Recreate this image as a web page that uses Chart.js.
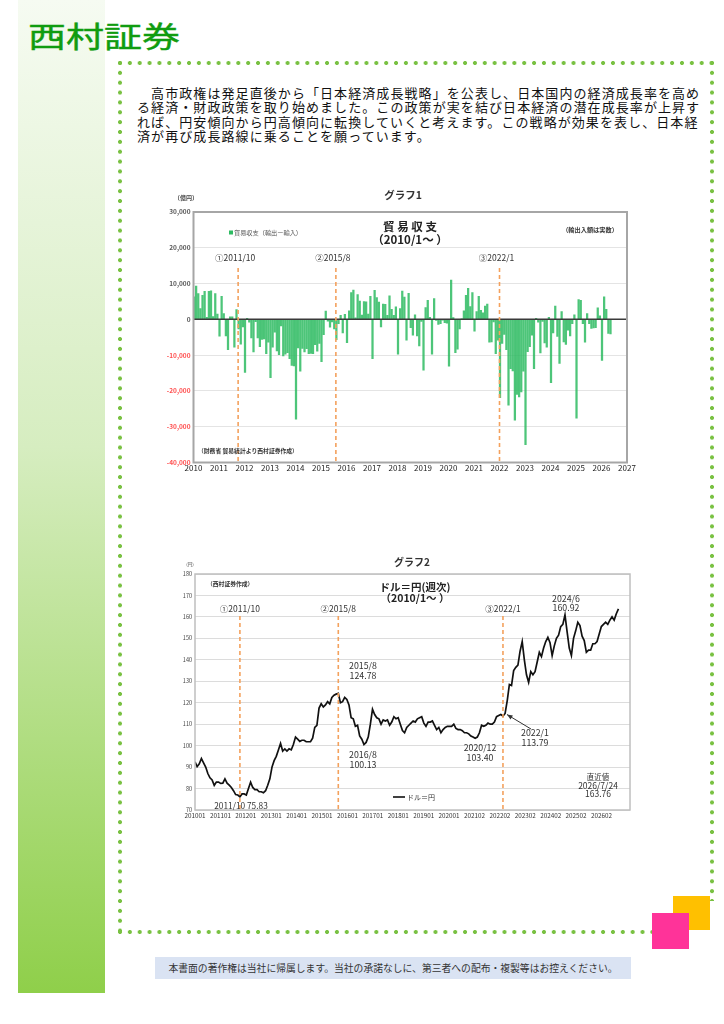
<!DOCTYPE html>
<html lang="ja">
<head>
<meta charset="utf-8">
<title>西村証券 グラフ1・グラフ2</title>
<script src="https://cdn.jsdelivr.net/npm/chart.js"></script>
<style>
  html, body { margin: 0; padding: 0; background: #fff; }
  body { width: 724px; height: 1024px; position: relative; overflow: hidden;
         font-family: "Noto Sans CJK JP", "Noto Sans", sans-serif; color: #111; }
  .abs { position: absolute; }
  #sidebar { left: 18px; top: 0; width: 87px; height: 993px;
             background: linear-gradient(to bottom, #f6fbf2 0%, #d6edc0 45%, #8fcf4a 100%); }
  #brand { left: 28px; top: 17px; font-size: 29px; line-height: 36px; color: #109c10;
           transform: scaleX(1.31); transform-origin: left top; white-space: nowrap;
           -webkit-text-stroke: 0.4px #109c10; }
  .dots-h { height: 4px;
            background: radial-gradient(circle at 2px 2px, #79c142 1.7px, rgba(121,193,66,0) 2.3px) 0 0 / 9.87px 4px repeat-x; }
  .dots-v { width: 4px;
            background: radial-gradient(circle at 2px 2px, #79c142 1.7px, rgba(121,193,66,0) 2.3px) 0 0 / 4px 9.87px repeat-y; }
  #lead { left: 137px; top: 86px; width: 580px; font-size: 13px; line-height: 14.4px;
          letter-spacing: 1.08px; white-space: nowrap; }
  #sqOrange { left: 673px; top: 896px; width: 37px; height: 34px; background: #ffc000; }
  #sqPink { left: 652px; top: 913px; width: 37px; height: 36px; background: #ff3399; }
  #footer { left: 155px; top: 957px; width: 476px; height: 22px; background: #dae3f3;
            font-size: 9.8px; line-height: 22px; text-align: center; color: #333; white-space: nowrap; }
  canvas { position: absolute; }
</style>
</head>
<body>
<div id="sidebar" class="abs"></div>
<div id="brand" class="abs">西村証券</div>

<div class="abs dots-h" style="left:118px; top:61px; width:598px;"></div>
<div class="abs dots-h" style="left:118px; top:930px; width:538px;"></div>
<div class="abs dots-v" style="left:118px; top:61px; height:873px;"></div>
<div class="abs dots-v" style="left:710px; top:61px; height:840px;"></div>

<div id="lead" class="abs">
  <div>　高市政権は発足直後から「日本経済成長戦略」を公表し、日本国内の経済成長率を高め</div>
  <div>る経済・財政政策を取り始めました。この政策が実を結び日本経済の潜在成長率が上昇す</div>
  <div>れば、円安傾向から円高傾向に転換していくと考えます。この戦略が効果を表し、日本経</div>
  <div>済が再び成長路線に乗ることを願っています。</div>
</div>

<canvas id="tradeChart" width="490" height="294" style="left:150px; top:183px;"></canvas>
<canvas id="usdChart" width="475" height="280" style="left:165px; top:550px;"></canvas>

<div id="sqOrange" class="abs"></div>
<div id="sqPink" class="abs"></div>
<div id="footer" class="abs">本書面の著作権は当社に帰属します。当社の承諾なしに、第三者への配布・複製等はお控えください。</div>

<script>
// ---- グラフ1: 貿易収支 (億円, 月次) ----
const trade2010 = [6300, 9300, 7200, 3000, 6700, 7800, 600, 7800, 8000, 800, 7200, 1500];
const trade2011 = [-4700, 6400, 1600, -4600, -8500, 700, 700, -7800, 2700, -2700, -6900, -2100];
const trade2012 = [-14800, 300, -800, -5200, -9100, -650, -5200, -7600, -5600, -5500, -9600, -6400];
const trade2013 = [-16300, -7800, -3600, -8800, -9900, -1800, -10200, -9700, -9300, -11000, -12900, -13000];
const trade2014 = [-27900, -8000, -14500, -8100, -9100, -8200, -9600, -9500, -9600, -7100, -8900, -6700];
const trade2015 = [-11800, -4300, 2300, -500, -2200, -700, -2700, -5700, -1200, 1100, -3800, 1400];
const trade2016 = [-6500, 2400, 7500, 8200, 400, 6900, 5100, 1200, 5000, 4900, 1500, 6400];
const trade2017 = [-11000, 8100, 6100, 4800, -2100, 4300, 4200, 1100, 6600, 2800, 1100, 3500];
const trade2018 = [-9700, 3000, 7900, 6200, -5800, 7300, -2300, -4400, 1300, -4600, -7400, -600];
const trade2019 = [-14200, 3300, 5300, 600, -9700, 5800, -300, -1400, -1200, -200, -900, -1100];
const trade2020 = [-13100, 11000, 500, -9300, -8300, -2700, 100, 2400, 6700, 8700, 3600, 7500];
const trade2021 = [-3300, 2200, 6400, 2500, 1800, 3700, 4300, -6400, -6300, -700, -9600, -5800];
const trade2022 = [-21900, -6700, -4200, -8500, -24000, -13800, -14400, -28200, -21000, -21700, -20300, -14500];
const trade2023 = [-35000, -9000, -7600, -4400, -13800, 300, -800, -9400, -600, -6600, -7800, 600];
const trade2024 = [-17700, -3800, 3700, -4800, -12300, 2200, -6300, -7000, -3000, -4600, -1200, 1300];
const trade2025 = [-27600, 5500, 5300, -1200, -6400, 1600, -1200, -2500, -2400, -2300, 3200, 1000];
const trade2026 = [-11500, 6300, 2800, -3900, -4100];
const tradeYears = [2010, 2011, 2012, 2013, 2014, 2015, 2016, 2017, 2018, 2019, 2020, 2021, 2022, 2023, 2024, 2025, 2026];
const tradeByYear = [trade2010, trade2011, trade2012, trade2013, trade2014, trade2015, trade2016, trade2017,
  trade2018, trade2019, trade2020, trade2021, trade2022, trade2023, trade2024, trade2025, trade2026];

// ---- グラフ2: ドル=円 (月次で読み取り) ----
const usd2010 = [92.5, 90.2, 91.5, 94.0, 92.0, 90.0, 87.0, 85.0, 84.0, 81.5, 83.0, 83.0];
const usd2011 = [82.4, 82.5, 84.5, 82.5, 81.6, 80.5, 79.0, 77.2, 77.0, 76.2, 77.5, 77.5];
const usd2012 = [77.0, 80.0, 83.0, 80.5, 79.5, 79.5, 78.5, 78.5, 78.0, 79.0, 81.5, 84.5];
const usd2013 = [90.0, 93.0, 95.0, 98.0, 101.0, 97.5, 98.5, 97.5, 98.5, 98.0, 100.5, 104.0];
const usd2014 = [103.0, 102.0, 102.5, 102.5, 101.8, 101.8, 101.8, 103.5, 108.5, 109.5, 117.5, 119.5];
const usd2015 = [118.0, 119.0, 120.5, 119.5, 122.5, 123.5, 124.0, 124.4, 120.0, 120.5, 122.5, 121.5];
const usd2016 = [119.0, 113.0, 112.5, 109.0, 109.5, 104.5, 103.0, 100.5, 101.5, 104.0, 110.0, 117.0];
const usd2017 = [114.5, 113.0, 112.5, 110.0, 112.0, 111.5, 112.0, 109.5, 111.0, 113.5, 112.5, 113.0];
const usd2018 = [110.0, 107.0, 106.0, 108.5, 109.5, 110.5, 111.5, 111.0, 112.5, 113.0, 113.5, 110.5];
const usd2019 = [109.0, 111.0, 111.0, 111.5, 109.5, 107.5, 108.5, 106.0, 107.5, 108.5, 109.0, 109.0];
const usd2020 = [109.0, 110.0, 108.0, 107.5, 107.5, 107.0, 106.0, 106.0, 105.5, 104.5, 104.0, 103.4];
const usd2021 = [104.0, 106.0, 109.5, 109.0, 109.5, 110.5, 110.0, 110.0, 111.0, 113.5, 114.0, 114.5];
const usd2022 = [113.8, 115.0, 121.0, 128.5, 128.0, 135.0, 136.5, 137.5, 144.0, 148.5, 140.0, 133.0];
const usd2023 = [129.5, 134.5, 133.0, 134.5, 139.0, 143.5, 141.5, 145.5, 148.5, 150.5, 148.0, 142.0];
const usd2024 = [146.5, 150.0, 151.5, 155.5, 156.5, 160.9, 153.0, 145.5, 142.0, 150.0, 153.5, 157.5];
const usd2025 = [156.0, 151.0, 149.0, 143.5, 144.5, 144.5, 147.5, 147.5, 148.5, 152.0, 155.5, 156.5];
const usd2026 = [157.5, 156.5, 158.5, 160.0, 158.5, 161.5, 163.76];
const usdByYear = [usd2010, usd2011, usd2012, usd2013, usd2014, usd2015, usd2016, usd2017,
  usd2018, usd2019, usd2020, usd2021, usd2022, usd2023, usd2024, usd2025, usd2026];
const usdTickLabels = ['201001', '201101', '201201', '201301', '201401', '201501', '201601', '201701', '201801',
  '201901', '202001', '202102', '202202', '202302', '202402', '202502', '202602'];

// 縦の点線（イベント）
const eventLabels = ['①2011/10', '②2015/8', '③2022/1'];
const eventYears = [2011, 2015, 2022];
const eventMonths = [10, 8, 1];

const FONT = '"Noto Sans CJK JP", "Noto Sans", sans-serif';
const DASH_COLOR = '#f4a15d';

// 月 -> x 値
const monthX = (year, month) => year + (month - 1) / 12;

const tradePoints = [];
tradeByYear.forEach((vals, k) => vals.forEach((v, m) => tradePoints.push({ x: monthX(tradeYears[k], m + 1) + 0.02, y: v })));
const usdPoints = [];
usdByYear.forEach((vals, k) => vals.forEach((v, m) => usdPoints.push({ x: monthX(2010 + k, m + 1), y: v })));

function text(ctx, str, x, y, size, opts = {}) {
  ctx.font = `${opts.bold ? 'bold ' : ''}${size}px ${FONT}`;
  ctx.fillStyle = opts.color || '#333';
  ctx.textAlign = opts.align || 'center';
  ctx.textBaseline = 'middle';
  ctx.fillText(str, x, y);
}

// 点線・枠・注記を描くプラグイン
const decoPlugin = {
  id: 'deco',
  afterDatasetsDraw(chart, args, opts) {
    const { ctx, chartArea: a, scales: { x, y } } = chart;
    ctx.save();
    if (opts.zeroLine) {
      const py = y.getPixelForValue(0);
      ctx.strokeStyle = '#3a3a3a';
      ctx.lineWidth = 1.5;
      ctx.beginPath(); ctx.moveTo(a.left, py); ctx.lineTo(a.right, py); ctx.stroke();
    }
    ctx.strokeStyle = DASH_COLOR;
    ctx.lineWidth = 1.6;
    ctx.setLineDash([4, 3]);
    eventYears.forEach((yr, i) => {
      const px = x.getPixelForValue(monthX(yr, eventMonths[i]));
      ctx.beginPath(); ctx.moveTo(px, opts.dashTop); ctx.lineTo(px, a.bottom); ctx.stroke();
      text(ctx, eventLabels[i], px + opts.eventShift, opts.eventY, 8.5, { color: '#333' });
    });
    ctx.setLineDash([]);
    ctx.strokeStyle = opts.frameColor;
    ctx.lineWidth = opts.frameWidth;
    ctx.strokeRect(a.left, a.top, a.right - a.left, a.bottom - a.top);
    opts.draw(ctx, chart);
    ctx.restore();
  }
};

new Chart(document.getElementById('tradeChart'), {
  type: 'bar',
  data: {
    datasets: [{
      label: '貿易収支（輸出ー輸入）',
      data: tradePoints,
      backgroundColor: 'rgba(46, 187, 98, 0.85)',
      barThickness: 1.6
    }]
  },
  options: {
    responsive: false,
    animation: false,
    layout: { padding: { top: 29, right: 13, left: 0, bottom: 0 } },
    plugins: {
      legend: { display: false },
      tooltip: { enabled: false },
      deco: {
        zeroLine: true,
        dashTop: 85,
        eventY: 75,
        eventShift: -3,
        frameColor: '#a6a6a6',
        frameWidth: 2,
        draw(ctx) {
          text(ctx, 'グラフ1', 253, 12, 10.5, { bold: true, color: '#333' });
          text(ctx, '（億円）', 36, 15, 6, { bold: true, color: '#444' });
          text(ctx, '貿 易 収 支', 260, 44, 11.5, { bold: true, color: '#222' });
          text(ctx, '（2010/1～ ）', 260, 57, 11.5, { bold: true, color: '#222' });
          ctx.fillStyle = '#2ebb62';
          ctx.fillRect(79, 47.5, 4, 4);
          text(ctx, '貿易収支（輸出ー輸入）', 84, 49.7, 6.2, { align: 'left', color: '#555' });
          text(ctx, '（輸出入額は実数）', 440, 47, 6.2, { bold: true, color: '#333' });
          text(ctx, '（財務省 貿易統計より西村証券作成）', 48, 268, 5.8, { align: 'left', bold: true, color: '#333' });
        }
      }
    },
    scales: {
      x: {
        type: 'linear',
        min: 2010,
        max: 2027,
        offset: false,
        grid: { display: false, drawTicks: false, offset: false },
        border: { display: false },
        ticks: { stepSize: 1, padding: 1, color: '#222', font: { size: 8, family: FONT }, callback: v => String(v), maxRotation: 0 },
        afterFit(s) { s.height = 14.5; s.paddingLeft = 0; s.paddingRight = 0; }
      },
      y: {
        min: -40000,
        max: 30000,
        grid: { color: '#e4e4e4', drawTicks: false },
        border: { display: false },
        ticks: {
          stepSize: 10000,
          padding: 3,
          font: { size: 6.5, weight: 'bold', family: FONT },
          color: c => (c.tick && c.tick.value < 0 ? '#ff5050' : '#595959'),
          callback: v => v.toLocaleString('en-US')
        },
        afterFit(s) { s.width = 43.5; s.paddingTop = 0; s.paddingBottom = 0; }
      }
    }
  },
  plugins: [decoPlugin]
});

const USD_TICK_STEP = 0.99;

new Chart(document.getElementById('usdChart'), {
  type: 'line',
  data: {
    datasets: [{
      label: 'ドル＝円',
      data: usdPoints,
      borderColor: '#111',
      borderWidth: 1.7,
      pointRadius: 0,
      tension: 0
    }]
  },
  options: {
    responsive: false,
    animation: false,
    layout: { padding: { top: 24, right: 10, left: 0, bottom: 0 } },
    plugins: {
      legend: { display: false },
      tooltip: { enabled: false },
      deco: {
        zeroLine: false,
        dashTop: 66,
        eventY: 59,
        eventShift: 0,
        frameColor: '#bfbfbf',
        frameWidth: 1.5,
        draw(ctx, chart) {
          const { x, y } = chart.scales;
          text(ctx, 'グラフ2', 247, 12, 10, { bold: true, color: '#333' });
          text(ctx, '(円)', 25, 14, 4.5, { color: '#444' });
          text(ctx, '（西村証券作成）', 42, 34, 5.8, { align: 'left', bold: true, color: '#333' });
          text(ctx, 'ドル＝円(週次)', 250, 37, 10.5, { bold: true, color: '#222' });
          text(ctx, '（2010/1～ ）', 250, 48, 10.5, { bold: true, color: '#222' });
          text(ctx, '2015/8', 198, 116, 8.8);
          text(ctx, '124.78', 198, 126, 8.8);
          text(ctx, '2016/8', 198, 205, 8.8);
          text(ctx, '100.13', 198, 215, 8.8);
          text(ctx, '2020/12', 315, 198, 8.8);
          text(ctx, '103.40', 315, 208, 8.8);
          text(ctx, '2022/1', 370, 183, 8.8);
          text(ctx, '113.79', 370, 193, 8.8);
          text(ctx, '2024/6', 401, 49, 8.8);
          text(ctx, '160.92', 401, 58, 8.8);
          text(ctx, '直近値', 433, 227, 7.5);
          text(ctx, '2026/7/24', 433, 235.5, 8.5);
          text(ctx, '163.76', 433, 244, 8.5);
          text(ctx, '2011/10 75.83', 76, 256, 8.3);
          // 矢印 (2022/1 の点へ)
          const tipX = x.getPixelForValue(monthX(2022, 1)) + 4;
          const tipY = y.getPixelForValue(114.5);
          const tailX = 366, tailY = 179;
          ctx.strokeStyle = '#333'; ctx.fillStyle = '#333'; ctx.lineWidth = 1;
          ctx.beginPath(); ctx.moveTo(tailX, tailY); ctx.lineTo(tipX, tipY); ctx.stroke();
          const ang = Math.atan2(tipY - tailY, tipX - tailX);
          ctx.beginPath();
          ctx.moveTo(tipX, tipY);
          ctx.lineTo(tipX - 6 * Math.cos(ang - 0.4), tipY - 6 * Math.sin(ang - 0.4));
          ctx.lineTo(tipX - 6 * Math.cos(ang + 0.4), tipY - 6 * Math.sin(ang + 0.4));
          ctx.closePath(); ctx.fill();
          // 凡例
          ctx.strokeStyle = '#111'; ctx.lineWidth = 1.6;
          ctx.beginPath(); ctx.moveTo(228, 247); ctx.lineTo(240, 247); ctx.stroke();
          text(ctx, 'ドル＝円', 242, 247, 7, { align: 'left', color: '#333' });
        }
      }
    },
    scales: {
      x: {
        type: 'linear',
        min: 2010,
        max: 2026.95,
        grid: { display: false, drawTicks: false },
        border: { display: false },
        afterBuildTicks(axis) { axis.ticks = usdTickLabels.map((_, k) => ({ value: 2010 + k * USD_TICK_STEP })); },
        ticks: {
          autoSkip: false, maxRotation: 0, padding: 2, color: '#333',
          font: { size: 6.3, family: FONT },
          callback: (v, i) => usdTickLabels[i] || ''
        },
        afterFit(s) { s.height = 20; s.paddingLeft = 0; s.paddingRight = 0; }
      },
      y: {
        min: 70,
        max: 180,
        grid: { color: '#dcdcdc', drawTicks: false },
        border: { display: false },
        ticks: { stepSize: 10, padding: 3, color: '#444', font: { size: 5.5, family: FONT } },
        afterFit(s) { s.width = 30; s.paddingTop = 0; s.paddingBottom = 0; }
      }
    }
  },
  plugins: [decoPlugin]
});
</script>
</body>
</html>
